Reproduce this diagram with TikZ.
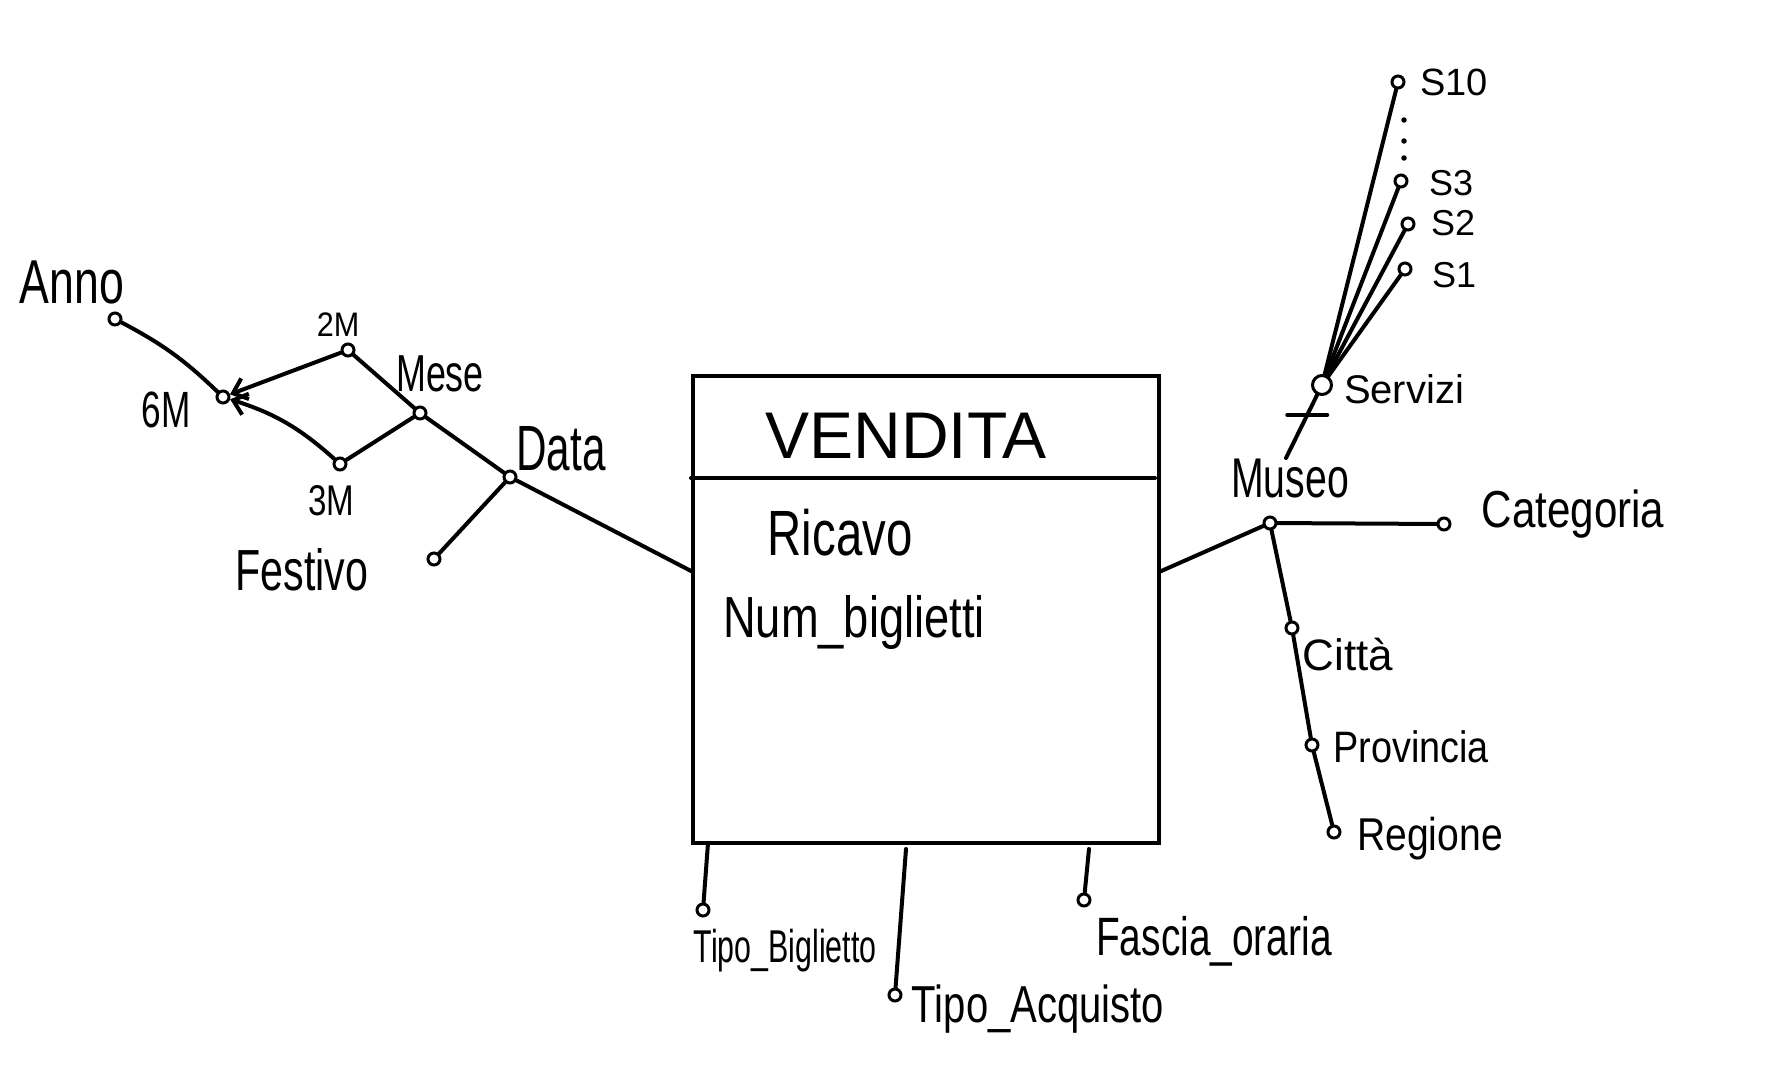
\documentclass[tikz,border=0pt]{standalone}
\usepackage{fontspec}
\setmainfont{Liberation Sans}
\usetikzlibrary{arrows.meta,calc}
\newcommand{\hw}[2]{\scalebox{#1}[1]{#2}}
\tikzset{
  ln/.style={line width=4pt, line cap=round, line join=round},
  att/.style={circle, draw, line width=3pt, inner sep=0pt, minimum size=12pt, fill=white},
  dotn/.style={circle, fill, inner sep=0pt, minimum size=5.5pt},
  lbl/.style={inner sep=0pt, anchor=base},
  lblw/.style={inner sep=0pt, anchor=base west},
  fs/.style={font=\fontsize{#1}{#1}\selectfont},
  arr/.style={ln, -{Straight Barb[length=13pt, width=22pt, line width=4pt]}},
}
\begin{document}
\begin{tikzpicture}[x=1pt,y=-1pt]
\useasboundingbox (0,0) rectangle (1775,1085);

% fact box
\node[draw, line width=4pt, minimum width=466pt, minimum height=467pt, inner sep=0pt] (fact) at (926,609.5) {};
\coordinate (dv) at (0,478);
\coordinate (dve) at (1155,478);
\draw[ln] (fact.west |- dv) -- (dve);
\node[lbl, fs=66] (tVend) at (906,458) {VENDITA};
\node[lbl, fs=64] (tRic) at (840,555) {\hw{0.74}{Ricavo}};
\node[lblw, fs=58] (tNum) at (723,637) {\hw{0.78}{Num\_biglietti}};

% attribute circles
\node[att] (anno) at (115,319) {};
\node[att] (sei) at (223,397) {};
\node[att] (due) at (348,350) {};
\node[att] (mese) at (420,413) {};
\node[att] (tre) at (340,464) {};
\node[att] (data) at (510,477) {};
\node[att] (fest) at (434,559) {};
\node[att] (museo) at (1270,523) {};
\node[att] (cat) at (1444,524) {};
\node[att] (citta) at (1292,628) {};
\node[att] (prov) at (1312,745) {};
\node[att] (reg) at (1334,832) {};
\node[att, minimum size=19pt] (serv) at (1322,385) {};
\node[att] (s1) at (1405,269) {};
\node[att] (s2) at (1408,224) {};
\node[att] (s3) at (1401,181) {};
\node[att] (s10) at (1398,82) {};
\node[att] (tb) at (703,910) {};
\node[att] (ta) at (895,995) {};
\node[att] (fo) at (1084,900) {};

% dots
\node[dotn] (d1) at (1404,120) {};
\node[dotn] (d2) at (1404,141) {};
\node[dotn] (d3) at (1404,158) {};

% coordinates on the box
\coordinate (fl) at (693,572);
\coordinate (fr) at (1159,572);
\coordinate (btb) at (708,843);
\coordinate (bta) at (906,849);
\coordinate (bfo) at (1089,849);
\coordinate (mtop) at (1286,458);

% connectors
\draw[ln] (data) -- (fl);
\draw[ln] (data) -- (fest);
\draw[ln] (data) -- (mese);
\draw[ln] (mese) -- (due);
\draw[ln] (mese) -- (tre);
\draw[arr] (due) -- (sei);
\draw[arr] (tre) to[bend right=12] (sei);
\draw[ln] (anno) to[bend left=8] (sei);

\draw[ln] (fr) -- (museo);
\draw[ln] (museo) -- (cat);
\draw[ln] (museo) -- (citta);
\draw[ln] (citta) -- (prov);
\draw[ln] (prov) -- (reg);
\draw[ln] (mtop) -- (serv);
\draw[ln] ($(mtop)!0.59!(serv)$) +(-20,0) -- +(20,0);
\draw[ln] (serv) -- (s1);
\draw[ln] (serv) -- (s2);
\draw[ln] (serv) -- (s3);
\draw[ln] (serv) -- (s10);

\draw[ln] (btb) -- (tb);
\draw[ln] (bta) -- (ta);
\draw[ln] (bfo) -- (fo);

% labels
\node[lbl, fs=62] (tAnno) at (72,303) {\hw{0.72}{Anno}};
\node[lbl, fs=51] (tSei) at (166,427) {\hw{0.69}{6M}};
\node[lbl, fs=34] (tDue) at (338,336) {\hw{0.9}{2M}};
\node[lbl, fs=52] (tMese) at (440,391) {\hw{0.69}{Mese}};
\node[lbl, fs=43] (tTre) at (331,515) {\hw{0.77}{3M}};
\node[lbl, fs=64] (tData) at (561,470) {\hw{0.66}{Data}};
\node[lbl, fs=58] (tFest) at (302,590) {\hw{0.71}{Festivo}};

\node[lbl, fs=56] (tMuseo) at (1290,497) {\hw{0.7}{Museo}};
\node[lbl, fs=52] (tCat) at (1573,527) {\hw{0.81}{Categoria}};
\node[lbl, fs=40] (tServ) at (1404,403) {Servizi};
\node[lbl, fs=38] (tS10) at (1454,95) {S10};
\node[lbl, fs=36] (tS3) at (1451,195) {S3};
\node[lbl, fs=36] (tS2) at (1453,235) {S2};
\node[lbl, fs=36] (tS1) at (1454,287) {S1};
\node[lbl, fs=44] (tCitta) at (1348,670) {Città};
\node[lbl, fs=44] (tProv) at (1411,762) {\hw{0.86}{Provincia}};
\node[lbl, fs=46] (tReg) at (1430,850) {\hw{0.85}{Regione}};

\node[lbl, fs=46] (tTB) at (785,962) {\hw{0.66}{Tipo\_Biglietto}};
\node[lbl, fs=52] (tTA) at (1038,1022) {\hw{0.77}{Tipo\_Acquisto}};
\node[lbl, fs=54] (tFO) at (1214,955) {\hw{0.72}{Fascia\_oraria}};
\end{tikzpicture}
\end{document}
